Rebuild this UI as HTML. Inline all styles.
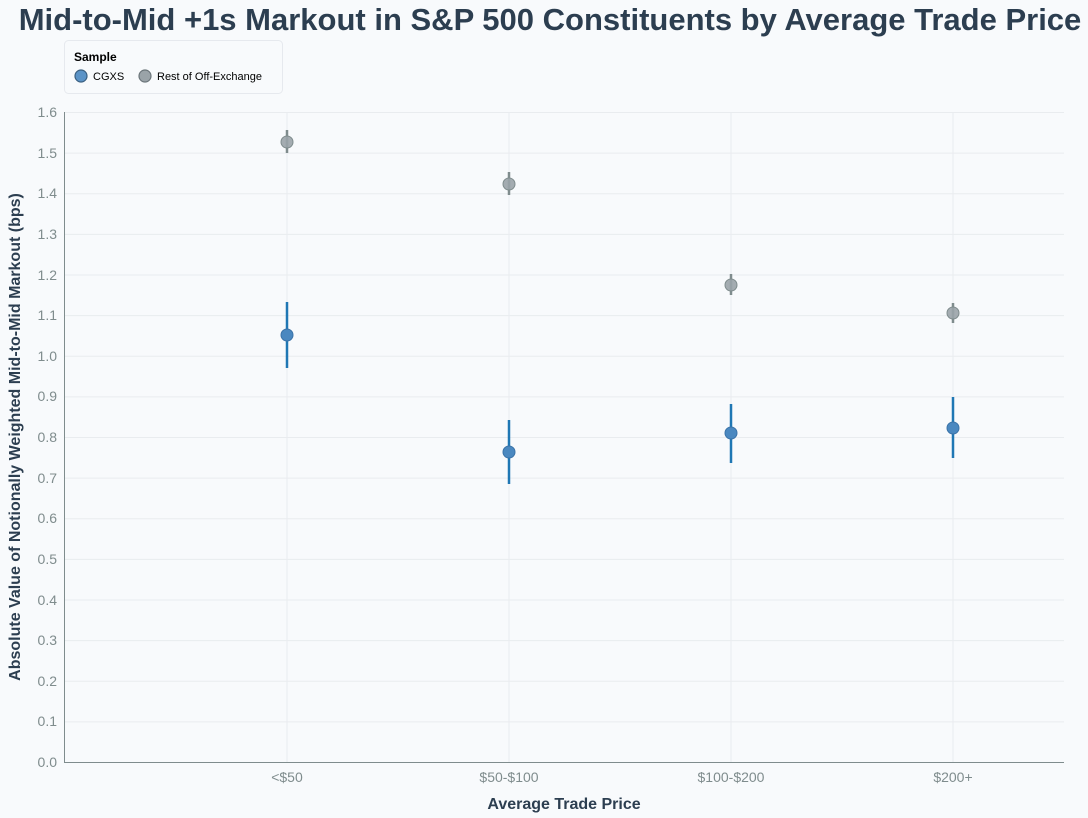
<!DOCTYPE html>
<html><head><meta charset="utf-8"><style>
body{margin:0;background:#f8fafc;}
svg{display:block;font-family:"Liberation Sans",Arial,sans-serif;}
</style></head><body>
<svg width="1088" height="818" viewBox="0 0 1088 818">
<rect width="1088" height="818" fill="#f8fafc"/>
<text x="550" y="30" text-anchor="middle" font-size="31" font-weight="bold" fill="#2c3e50">Mid-to-Mid +1s Markout in S&amp;P 500 Constituents by Average Trade Price</text>
<rect x="64.5" y="40.5" width="218" height="53" rx="4" fill="#f8fafc" stroke="#e6e9ee"/>
<text x="74" y="61" font-size="12" font-weight="bold" fill="#000">Sample</text>
<circle cx="81" cy="76" r="6" fill="#5b93c7" stroke="#3a5f80" stroke-width="1.2"/>
<text x="93" y="80" font-size="11" fill="#000">CGXS</text>
<circle cx="145" cy="76" r="6" fill="#9aa3a8" stroke="#6b757a" stroke-width="1.2"/>
<text x="157" y="80" font-size="11" fill="#000">Rest of Off-Exchange</text>
<g stroke="#e9ecef" stroke-width="1">
<line x1="64" x2="1064" y1="112.5" y2="112.5"/><line x1="64" x2="1064" y1="153.1" y2="153.1"/><line x1="64" x2="1064" y1="193.8" y2="193.8"/><line x1="64" x2="1064" y1="234.4" y2="234.4"/><line x1="64" x2="1064" y1="275" y2="275"/><line x1="64" x2="1064" y1="315.6" y2="315.6"/><line x1="64" x2="1064" y1="356.3" y2="356.3"/><line x1="64" x2="1064" y1="396.9" y2="396.9"/><line x1="64" x2="1064" y1="437.5" y2="437.5"/><line x1="64" x2="1064" y1="478.1" y2="478.1"/><line x1="64" x2="1064" y1="518.8" y2="518.8"/><line x1="64" x2="1064" y1="559.4" y2="559.4"/><line x1="64" x2="1064" y1="600" y2="600"/><line x1="64" x2="1064" y1="640.6" y2="640.6"/><line x1="64" x2="1064" y1="681.3" y2="681.3"/><line x1="64" x2="1064" y1="721.9" y2="721.9"/>
<line x1="287" x2="287" y1="112" y2="762"/><line x1="509" x2="509" y1="112" y2="762"/><line x1="731" x2="731" y1="112" y2="762"/><line x1="953" x2="953" y1="112" y2="762"/>
</g>
<line x1="64.5" x2="64.5" y1="112" y2="762" stroke="#7f8c8d"/>
<line x1="64" x2="1064" y1="762.5" y2="762.5" stroke="#7f8c8d"/>
<g font-size="14" fill="#7f8c8d" text-anchor="end">
<text x="57" y="117">1.6</text><text x="57" y="158">1.5</text><text x="57" y="198">1.4</text><text x="57" y="239">1.3</text><text x="57" y="280">1.2</text><text x="57" y="320">1.1</text><text x="57" y="361">1.0</text><text x="57" y="401">0.9</text><text x="57" y="442">0.8</text><text x="57" y="483">0.7</text><text x="57" y="523">0.6</text><text x="57" y="564">0.5</text><text x="57" y="605">0.4</text><text x="57" y="645">0.3</text><text x="57" y="686">0.2</text><text x="57" y="726">0.1</text><text x="57" y="767">0.0</text>
</g>
<g font-size="14" fill="#7f8c8d" text-anchor="middle">
<text x="287" y="782">&lt;$50</text><text x="509" y="782">$50-$100</text><text x="731" y="782">$100-$200</text><text x="953" y="782">$200+</text>
</g>
<text x="564" y="809" text-anchor="middle" font-size="16" font-weight="bold" fill="#2c3e50">Average Trade Price</text>
<text transform="translate(20,437) rotate(-90)" text-anchor="middle" font-size="16" font-weight="bold" fill="#2c3e50">Absolute Value of Notionally Weighted Mid-to-Mid Markout (bps)</text>
<g stroke="#7f8c8d" stroke-width="2.5">
<line x1="287" x2="287" y1="130" y2="153"/><line x1="509" x2="509" y1="172" y2="195"/><line x1="731" x2="731" y1="274" y2="295"/><line x1="953" x2="953" y1="303" y2="323"/>
</g>
<g fill="#9aa3a8" stroke="#7f8c8d" stroke-width="1" fill-opacity="0.9">
<circle cx="287" cy="142" r="6"/><circle cx="509" cy="184" r="6"/><circle cx="731" cy="285" r="6"/><circle cx="953" cy="313" r="6"/>
</g>
<g stroke="#1f77b4" stroke-width="2.5">
<line x1="287" x2="287" y1="302" y2="368"/><line x1="509" x2="509" y1="420" y2="484"/><line x1="731" x2="731" y1="404" y2="463"/><line x1="953" x2="953" y1="397" y2="458"/>
</g>
<g fill="#4a88c0" stroke="#3a73a8" stroke-width="1">
<circle cx="287" cy="335" r="6"/><circle cx="509" cy="452" r="6"/><circle cx="731" cy="433" r="6"/><circle cx="953" cy="428" r="6"/>
</g>
</svg>
</body></html>
